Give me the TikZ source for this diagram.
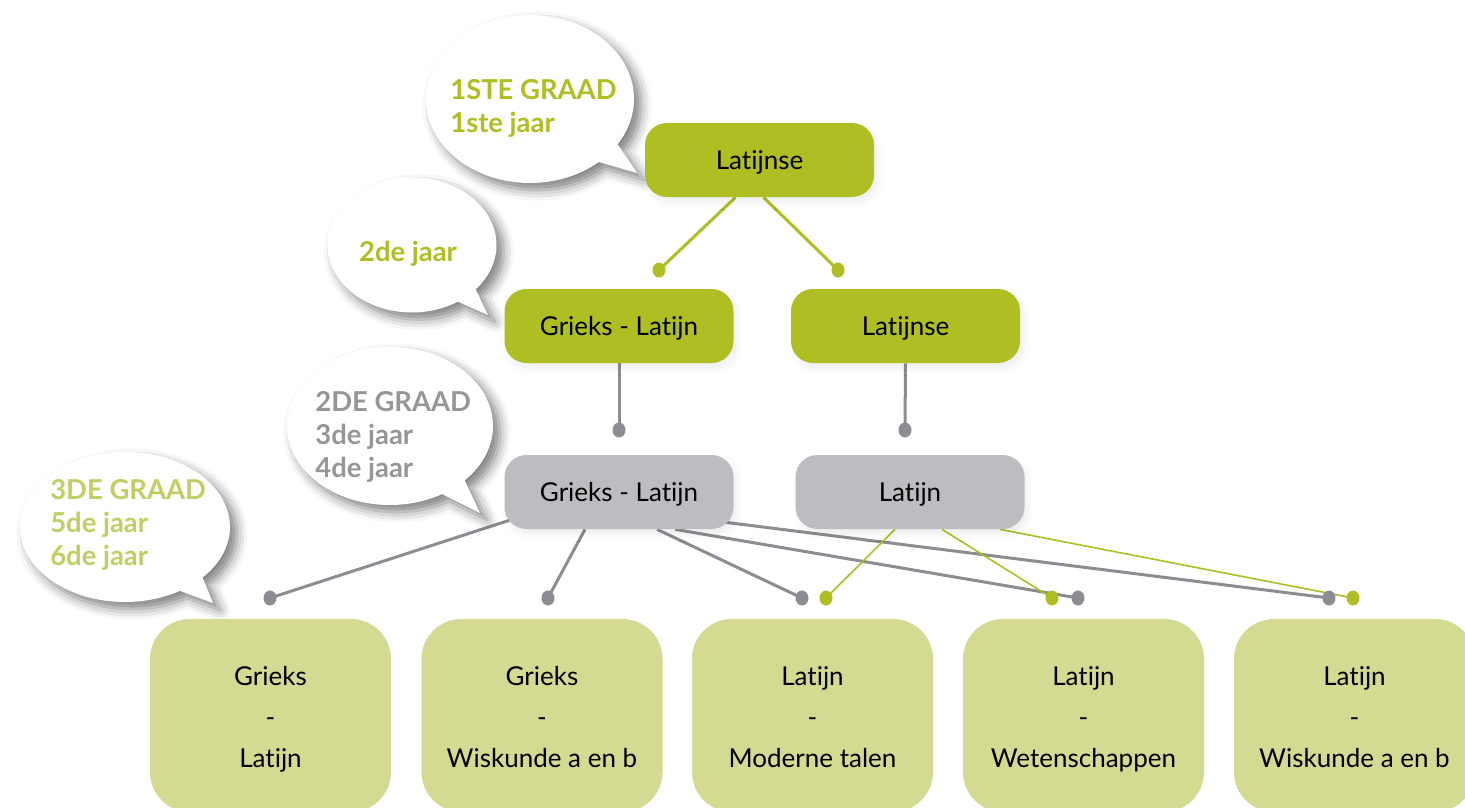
\documentclass[tikz,border=0pt]{standalone}
\usepackage{fontspec}
\setmainfont{Lato}[Ligatures=NoCommon]
\usetikzlibrary{shapes.callouts,shapes.geometric,shadows.blur,calc,backgrounds}
\newdimen\pxu \pxu=0.02cm
\definecolor{lime}{RGB}{175,190,34}
\definecolor{limelight}{RGB}{194,206,100}
\definecolor{boxgray}{RGB}{188,189,193}
\definecolor{leafgreen}{RGB}{212,218,146}
\definecolor{linegray}{RGB}{140,141,146}
\definecolor{bubgray}{RGB}{150,150,154}
\tikzset{
  box/.style={rectangle, rounded corners=22\pxu, minimum width=229\pxu, minimum height=74\pxu,
    inner sep=0pt, text=black, font=\fontsize{14.8}{17}\selectfont, text height=10.5pt, text depth=0pt,
    blur shadow={shadow xshift=2pt, shadow yshift=-3pt, shadow opacity=7, shadow blur radius=4pt}},
  topbox/.style={box, fill=lime},
  graybox/.style={box, fill=boxgray},
  leaf/.style={rectangle, rounded corners=40\pxu, minimum width=241\pxu, minimum height=193\pxu,
    inner sep=0pt, fill=leafgreen, text=black, align=center, font=\fontsize{14.8}{23.2}\selectfont},
  leaftext/.style={inner sep=0pt, text=black, align=center, font=\fontsize{14.8}{23.2}\selectfont},
  bubble/.style={ellipse callout, fill=white, inner sep=0pt, callout pointer arc=16,
    blur shadow={shadow xshift=4pt, shadow yshift=-4pt, shadow opacity=50, shadow blur radius=6pt}},
  bubtext/.style={inner sep=0pt, align=left, font=\bfseries\fontsize{15.6}{18.6}\selectfont},
  gdot/.style={ellipse, fill=linegray, minimum width=13\pxu, minimum height=15\pxu, inner sep=0pt},
  ldot/.style={ellipse, fill=lime, minimum width=13\pxu, minimum height=15\pxu, inner sep=0pt},
  gline/.style={draw=linegray, line width=3\pxu},
  lline/.style={draw=lime, line width=3\pxu},
  thinlline/.style={draw=lime, line width=1.6\pxu},
}
\begin{document}
\begin{tikzpicture}[x=0.02cm, y=-0.02cm]
\useasboundingbox (0,0) rectangle (1465,808);
\clip (0,0) rectangle (1465,808);

% speech bubbles
\node[bubble, minimum width=208\pxu, minimum height=168\pxu, callout absolute pointer={(637,173)}] (bub1) at (530,99) {};
\node[bubtext, text=lime, anchor=west] (bt1) at (450,108.5) {1STE GRAAD\\1ste jaar};

\node[bubble, minimum width=169\pxu, minimum height=135\pxu, callout absolute pointer={(488,315)}] (bub2) at (412,245) {};
\node[bubtext, text=lime] (bt2) at (408,254) {2de jaar};

\node[bubble, minimum width=206\pxu, minimum height=158\pxu, callout absolute pointer={(480,513)}] (bub3) at (390,426) {};
\node[bubtext, text=bubgray, anchor=west] (bt3) at (315,437) {2DE GRAAD\\3de jaar\\4de jaar};

\node[bubble, minimum width=210\pxu, minimum height=150\pxu, callout absolute pointer={(213,603)}] (bub4) at (125,527) {};
\node[bubtext, text=limelight, anchor=west] (bt4) at (50,525) {3DE GRAAD\\5de jaar\\6de jaar};

% boxes
\node[topbox] (t1) at (759.5,160) {Latijnse};
\node[topbox] (g2a) at (619,326) {Grieks - Latijn};
\node[topbox] (g2b) at (905.5,326) {Latijnse};
\node[graybox] (g3a) at (619,492) {Grieks - Latijn};
\node[graybox] (g3b) at (910,492) {Latijn};

\node[leaf] (l1) at (270.5,715.5) {};
\node[leaf] (l2) at (542,715.5) {};
\node[leaf] (l3) at (812.5,715.5) {};
\node[leaf] (l4) at (1083.5,715.5) {};
\node[leaf] (l5) at (1354.5,715.5) {};
\node[leaftext] (lt1) at ($(l1.center)+(0,3)$) {\strut Grieks\\-\\Latijn\strut};
\node[leaftext] (lt2) at ($(l2.center)+(0,3)$) {\strut Grieks\\-\\Wiskunde a en b\strut};
\node[leaftext] (lt3) at ($(l3.center)+(0,3)$) {\strut Latijn\\-\\Moderne talen\strut};
\node[leaftext] (lt4) at ($(l4.center)+(0,3)$) {\strut Latijn\\-\\Wetenschappen\strut};
\node[leaftext] (lt5) at ($(l5.center)+(0,3)$) {\strut Latijn\\-\\Wiskunde a en b\strut};

% dots
\node[ldot] (a1) at (659,270) {};
\node[ldot] (a2) at (838,270) {};
\node[gdot] (b1) at (619,430) {};
\node[gdot] (b2) at (905,430) {};
\node[gdot] (c1) at (270,598) {};
\node[gdot] (c2) at (548,598) {};
\node[gdot] (c3) at (802,598) {};
\node[ldot] (c4) at (826,598) {};
\node[ldot] (c6) at (1052,598) {};
\node[gdot] (c5) at (1078,598) {};
\node[gdot] (c7) at (1329,598) {};
\node[ldot] (c8) at (1353,598) {};

% connectors
\begin{scope}[on background layer]
\draw[lline] ($(t1.south)+(-24,0)$) -- (a1.center);
\draw[lline] ($(t1.south)+(4,0)$) -- (a2.center);
\draw[gline] (g2a.south) -- (b1.center);
\draw[gline] (g2b.south) -- (b2.center);
\draw[gline] ($(g3a.south west)+(5,-9)$) -- (c1.center);
\draw[gline] ($(g3a.south)+(-34,0)$) -- (c2.center);
\draw[gline] ($(g3a.south)+(38,0)$) -- (c3.center);
\draw[gline] ($(g3a.south)+(56,0)$) -- (c5.center);
\draw[gline] ($(g3a.south east)+(-8,-7)$) -- (c7.center);
\draw[thinlline] ($(g3b.south)+(-15,0)$) -- (c4.center);
\draw[thinlline] ($(g3b.south)+(32,0)$) -- (c6.center);
\draw[thinlline] ($(g3b.south)+(90,0)$) -- (c8.center);
\end{scope}
\end{tikzpicture}
\end{document}
